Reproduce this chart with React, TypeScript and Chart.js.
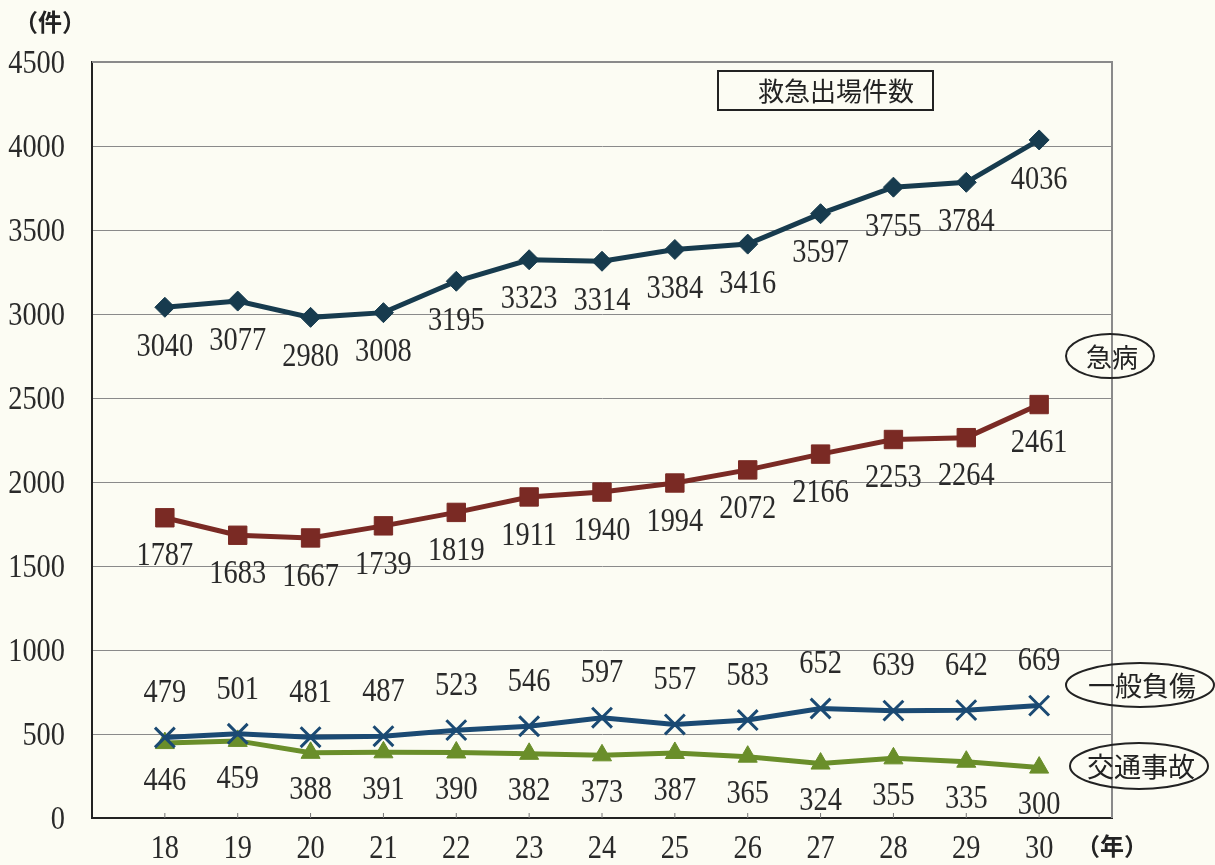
import React, { useEffect, useRef } from "react";
import { Chart, registerables } from "chart.js";

Chart.register(...registerables);

// ---- data ----
const years = [18, 19, 20, 21, 22, 23, 24, 25, 26, 27, 28, 29, 30];
const totalCalls = [3040, 3077, 2980, 3008, 3195, 3323, 3314, 3384, 3416, 3597, 3755, 3784, 4036];
const suddenIllness = [1787, 1683, 1667, 1739, 1819, 1911, 1940, 1994, 2072, 2166, 2253, 2264, 2461];
const generalInjury = [479, 501, 481, 487, 523, 546, 597, 557, 583, 652, 639, 642, 669];
const trafficAccident = [446, 459, 388, 391, 390, 382, 373, 387, 365, 324, 355, 335, 300];
const yTicks = [0, 500, 1000, 1500, 2000, 2500, 3000, 3500, 4000, 4500];

const seriesNames = ["救急出場件数", "急病", "一般負傷", "交通事故"];
const yUnit = "（件）";
const xUnit = "（年）";

const BG = "#fcfcf3";
const SERIF = "'Liberation Serif', 'DejaVu Serif', serif";
const CJK = "'Noto Sans CJK JP', sans-serif";
const NUM_SIZE = 33;
const NUM_SQUEEZE = 0.86;

// label offset (px) relative to point: positive = below
const labelOffsets = [40, 39, -44, 38];

function drawNum(ctx: CanvasRenderingContext2D, text: string, x: number, y: number, align: CanvasTextAlign) {
  ctx.save();
  ctx.translate(x, y);
  ctx.scale(NUM_SQUEEZE, 1);
  ctx.font = `${NUM_SIZE}px ${SERIF}`;
  ctx.textAlign = align;
  ctx.textBaseline = "middle";
  ctx.fillText(text, 0, 0);
  ctx.restore();
}

const bgPlugin = {
  id: "bg",
  beforeDraw(chart: any) {
    const { ctx, width, height } = chart;
    ctx.save();
    ctx.fillStyle = BG;
    ctx.fillRect(0, 0, width, height);
    ctx.restore();
  },
};

const decoPlugin = {
  id: "deco",
  beforeDatasetsDraw(chart: any) {
    const { ctx, chartArea } = chart;
    const xs = chart.scales.x;
    const ys = chart.scales.y;
    ctx.save();
    // top & right border
    ctx.strokeStyle = "#8a8a8a";
    ctx.lineWidth = 2;
    ctx.beginPath();
    ctx.moveTo(chartArea.left, chartArea.top);
    ctx.lineTo(chartArea.right, chartArea.top);
    ctx.lineTo(chartArea.right, chartArea.bottom);
    ctx.stroke();
    // small inner tick marks
    ctx.strokeStyle = "#777";
    ctx.lineWidth = 1;
    years.forEach((y) => {
      const px = xs.getPixelForValue(y);
      ctx.beginPath();
      ctx.moveTo(px, chartArea.bottom - 5);
      ctx.lineTo(px, chartArea.bottom);
      ctx.stroke();
    });
    // tick labels (condensed serif digits)
    ctx.fillStyle = "#2a2a2a";
    years.forEach((y) => {
      drawNum(ctx, String(y), xs.getPixelForValue(y), chartArea.bottom + 31, "center");
    });
    yTicks.forEach((v) => {
      drawNum(ctx, String(v), chartArea.left - 27, ys.getPixelForValue(v) + 2, "right");
    });
    ctx.restore();
  },
  afterDraw(chart: any) {
    const { ctx, chartArea } = chart;
    ctx.save();
    // data labels
    ctx.fillStyle = "#2a2a2a";
    chart.data.datasets.forEach((ds: any, di: number) => {
      const meta = chart.getDatasetMeta(di);
      meta.data.forEach((pt: any, i: number) => {
        drawNum(ctx, String(ds.data[i].y), pt.x, pt.y + labelOffsets[di], "center");
      });
    });

    ctx.textAlign = "center";
    ctx.textBaseline = "middle";
    // title box
    ctx.lineWidth = 2;
    ctx.strokeStyle = "#222";
    ctx.fillStyle = BG;
    ctx.fillRect(718, 71, 215, 39);
    ctx.strokeRect(718, 71, 215, 39);
    ctx.fillStyle = "#222";
    ctx.font = `26px ${CJK}`;
    ctx.fillText(seriesNames[0], 836, 91);

    // ellipses
    const ell = (cx: number, cy: number, rx: number, ry: number, text: string, size: number) => {
      ctx.beginPath();
      ctx.ellipse(cx, cy, rx, ry, 0, 0, Math.PI * 2);
      ctx.strokeStyle = "#222";
      ctx.lineWidth = 2;
      ctx.stroke();
      ctx.fillStyle = "#222";
      ctx.font = `${size}px ${CJK}`;
      ctx.fillText(text, cx + 2, cy + 1);
    };
    ell(1110, 356, 44, 22, seriesNames[1], 26);
    ell(1140, 685, 74, 22, seriesNames[2], 27);
    ell(1139, 766, 69, 23, seriesNames[3], 27);

    // units
    ctx.fillStyle = "#222";
    ctx.font = `bold 24px ${CJK}`;
    ctx.fillText(yUnit, 50, 22);
    ctx.fillText(xUnit, chartArea.right, 846);
    ctx.restore();
  },
};

export default function App() {
  const ref = useRef<HTMLCanvasElement>(null);
  useEffect(() => {
    const canvas = ref.current!;
    const mk = (vals: number[]) => years.map((x, i) => ({ x, y: vals[i] }));
    const chart = new Chart(canvas, {
      type: "line",
      data: {
        datasets: [
          {
            label: seriesNames[0],
            data: mk(totalCalls),
            borderColor: "#173b4e",
            backgroundColor: "#173b4e",
            borderWidth: 5,
            pointStyle: "rectRot",
            pointRadius: 10,
            pointBorderWidth: 1,
            tension: 0,
          },
          {
            label: seriesNames[1],
            data: mk(suddenIllness),
            borderColor: "#7a2a24",
            backgroundColor: "#7a2a24",
            borderWidth: 5,
            pointStyle: "rect",
            pointRadius: 13,
            pointBorderWidth: 1,
            tension: 0,
          },
          {
            label: seriesNames[2],
            data: mk(generalInjury),
            borderColor: "#1b4a73",
            backgroundColor: "#1b4a73",
            borderWidth: 5,
            pointStyle: "crossRot",
            pointRadius: 14,
            pointBorderWidth: 3,
            tension: 0,
          },
          {
            label: seriesNames[3],
            data: mk(trafficAccident),
            borderColor: "#6a8e2a",
            backgroundColor: "#6a8e2a",
            borderWidth: 5,
            pointStyle: "triangle",
            pointRadius: 11,
            pointBorderWidth: 1,
            tension: 0,
          },
        ],
      },
      options: {
        responsive: false,
        animation: false,
        devicePixelRatio: 1,
        layout: { padding: { top: 62, right: 103, left: 0, bottom: 0 } },
        plugins: { legend: { display: false }, tooltip: { enabled: false } },
        scales: {
          x: {
            type: "linear",
            min: 17,
            max: 31,
            afterBuildTicks: (s: any) => {
              s.ticks = years.map((v) => ({ value: v }));
            },
            afterFit: (s: any) => {
              s.height = 47;
            },
            ticks: { display: false },
            grid: { display: true, drawOnChartArea: false, drawTicks: false },
            border: { color: "#222", width: 2 },
          },
          y: {
            type: "linear",
            min: 0,
            max: 4500,
            afterBuildTicks: (s: any) => {
              s.ticks = yTicks.map((v) => ({ value: v }));
            },
            afterFit: (s: any) => {
              s.width = 92;
            },
            ticks: { display: false },
            grid: { color: "#8a8a8a", lineWidth: 1, drawTicks: false },
            border: { color: "#222", width: 2 },
          },
        },
      },
      plugins: [bgPlugin, decoPlugin],
    });
    return () => chart.destroy();
  }, []);
  return (
    <div style={{ position: "fixed", left: 0, top: 0, width: 1215, height: 865, background: BG }}>
      <canvas ref={ref} width={1215} height={865} style={{ display: "block", width: 1215, height: 865 }} />
    </div>
  );
}
